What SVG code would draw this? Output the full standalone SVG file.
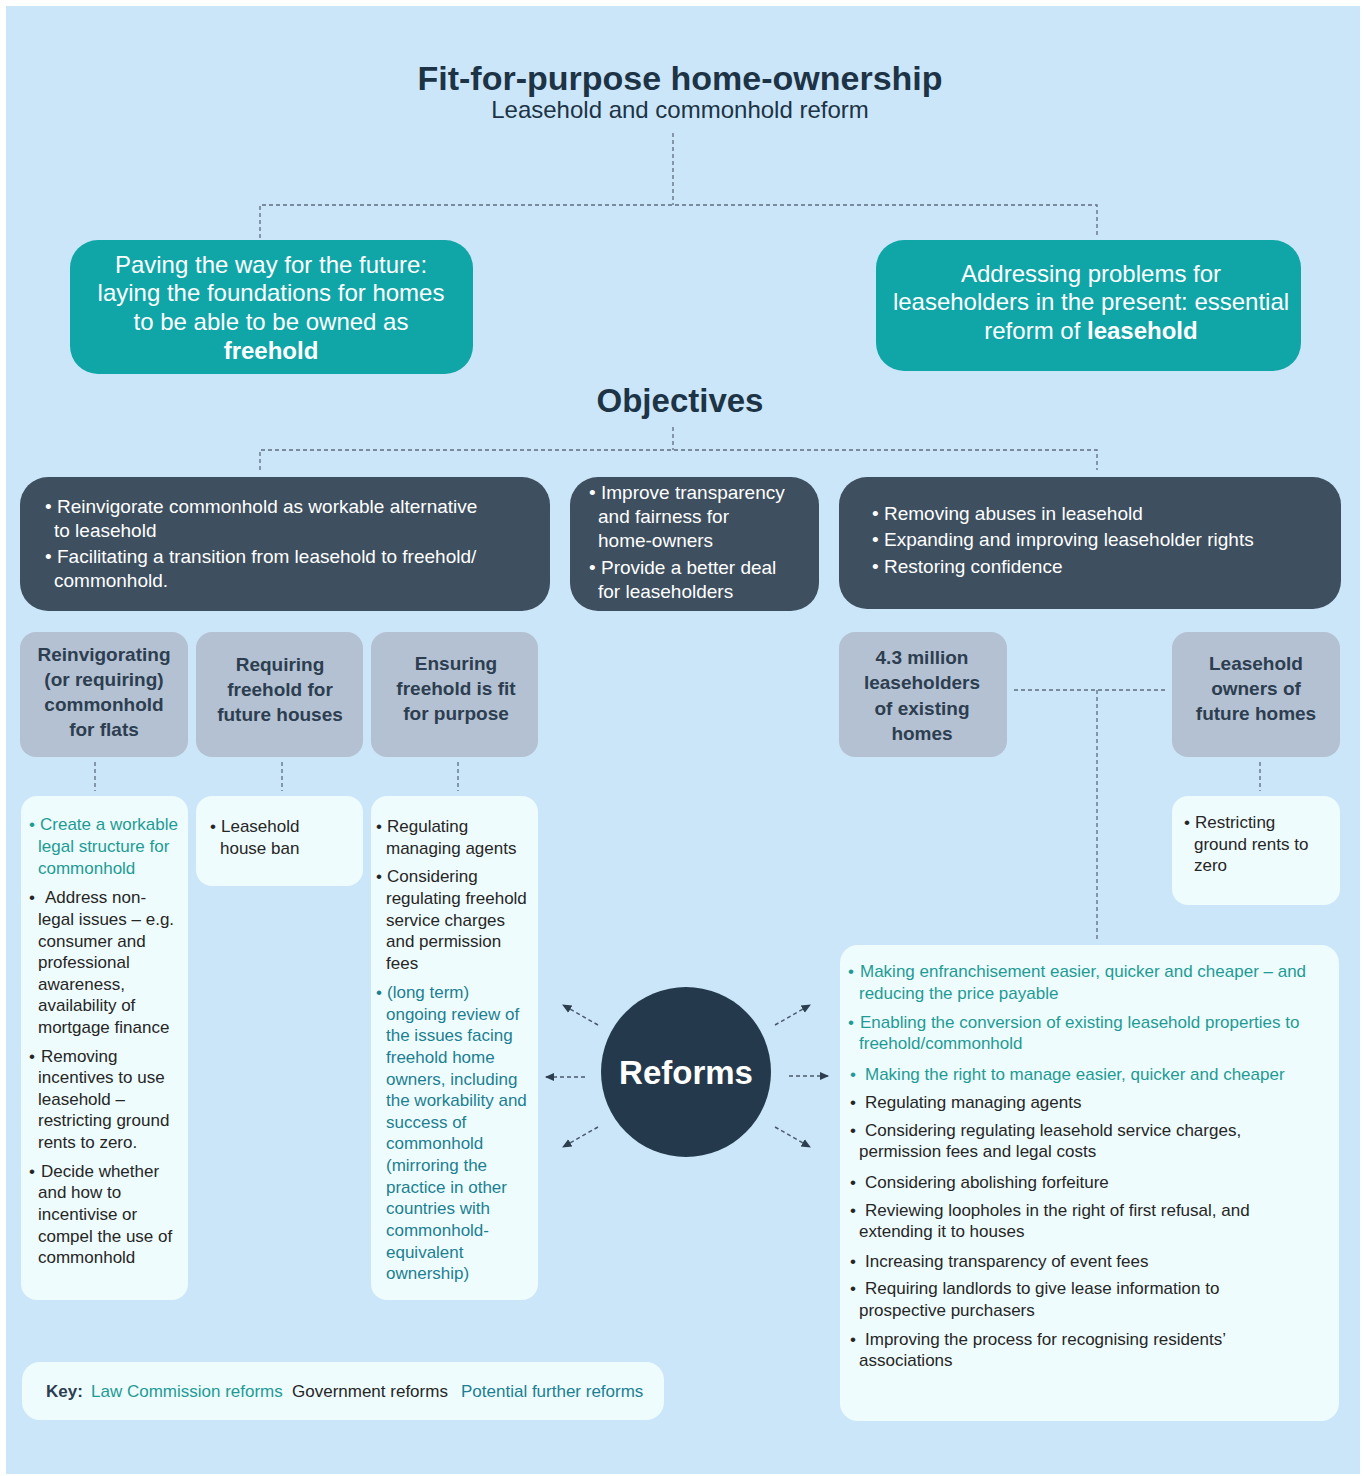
<svg xmlns="http://www.w3.org/2000/svg" width="1366" height="1476" viewBox="0 0 1366 1476">
<defs>
<style>
text{font-family:"Liberation Sans",Arial,sans-serif}
.title{font-size:34px;font-weight:bold;fill:#1d3346;text-anchor:middle}
.obj{font-size:33px;font-weight:bold;fill:#1d3346;text-anchor:middle}
.sub{font-size:24px;fill:#1d3346;text-anchor:middle}
.teal{fill:#10a6a8}
.tealtxt{font-size:24px;fill:#ffffff;text-anchor:middle}
.dark{fill:#3e4f60}
.darktxt{font-size:19px;fill:#ffffff}
.grey{fill:#b4c1d2}
.greytxt{font-size:19px;font-weight:bold;fill:#2c3e50;text-anchor:middle}
.white{fill:#effcfd}
.wt{font-size:17px;fill:#262626}
.lc{fill:#1e9b95}
.pf{fill:#1c7f92}
.conn{fill:none;stroke:#5d6d7e;stroke-width:1.3;stroke-dasharray:4 3}
.arr{fill:none;stroke:#4a5a6b;stroke-width:1.5;stroke-dasharray:4 3}
</style>
<marker id="ah" viewBox="0 0 10 10" refX="8" refY="5" markerWidth="7" markerHeight="7" orient="auto">
<path d="M0,1 L9,5 L0,9 z" fill="#2c3e50"/>
</marker>
</defs>
<rect x="0" y="0" width="1366" height="1476" fill="#ffffff"/>
<rect x="6" y="6" width="1354" height="1468" fill="#cce6f9"/>

<g id="title">
<text class="title" x="680" y="90">Fit-for-purpose home-ownership</text>
<text class="sub" x="680" y="118">Leasehold and commonhold reform</text>
</g>

<g id="connectors">
<path class="conn" d="M673,133 V205 M260,238 V205 H1097 V238"/>
<path class="conn" d="M673,427 V450 M260,470 V450 H1097 V470"/>
<path class="conn" d="M95,762 V791 M282,762 V791 M458,762 V791 M1260,762 V791"/>
<path class="conn" d="M1014,690 H1166 M1097,690 V940"/>
<path class="arr" d="M585,1077 H546" marker-end="url(#ah)"/>
<path class="arr" d="M789,1076 H828" marker-end="url(#ah)"/>
<path class="arr" d="M598,1025 L563,1005" marker-end="url(#ah)"/>
<path class="arr" d="M775,1025 L810,1005" marker-end="url(#ah)"/>
<path class="arr" d="M598,1127 L563,1147" marker-end="url(#ah)"/>
<path class="arr" d="M775,1127 L810,1147" marker-end="url(#ah)"/>
</g>

<g id="goal-future">
<rect class="teal" x="70" y="240" width="403" height="134" rx="28"/>
<text class="tealtxt" x="271" y="273">Paving the way for the future:</text>
<text class="tealtxt" x="271" y="301">laying the foundations for homes</text>
<text class="tealtxt" x="271" y="330">to be able to be owned as</text>
<text class="tealtxt" x="271" y="359" font-weight="bold">freehold</text>
</g>

<g id="goal-present">
<rect class="teal" x="876" y="240" width="425" height="131" rx="28"/>
<text class="tealtxt" x="1091" y="282">Addressing problems for</text>
<text class="tealtxt" x="1091" y="310">leaseholders in the present: essential</text>
<text class="tealtxt" x="1091" y="339">reform of <tspan font-weight="bold">leasehold</tspan></text>
</g>

<g id="objectives-heading">
<text class="obj" x="680" y="412">Objectives</text>
</g>

<g id="objective-1">
<rect class="dark" x="20" y="477" width="530" height="134" rx="28"/>
<text class="darktxt" y="513"><tspan x="45">•</tspan><tspan x="57">Reinvigorate commonhold as workable alternative</tspan></text>
<text class="darktxt" x="54" y="537">to leasehold</text>
<text class="darktxt" y="563"><tspan x="45">•</tspan><tspan x="57">Facilitating a transition from leasehold to freehold/</tspan></text>
<text class="darktxt" x="54" y="587">commonhold.</text>
</g>

<g id="objective-2">
<rect class="dark" x="570" y="477" width="249" height="134" rx="28"/>
<text class="darktxt" y="499"><tspan x="589">•</tspan><tspan x="601">Improve transparency</tspan></text>
<text class="darktxt" x="598" y="523">and fairness for</text>
<text class="darktxt" x="598" y="547">home-owners</text>
<text class="darktxt" y="574"><tspan x="589">•</tspan><tspan x="601">Provide a better deal</tspan></text>
<text class="darktxt" x="598" y="598">for leaseholders</text>
</g>

<g id="objective-3">
<rect class="dark" x="839" y="477" width="502" height="132" rx="28"/>
<text class="darktxt" y="520"><tspan x="872">•</tspan><tspan x="884">Removing abuses in leasehold</tspan></text>
<text class="darktxt" y="546"><tspan x="872">•</tspan><tspan x="884">Expanding and improving leaseholder rights</tspan></text>
<text class="darktxt" y="573"><tspan x="872">•</tspan><tspan x="884">Restoring confidence</tspan></text>
</g>

<g id="cat-commonhold">
<rect class="grey" x="20" y="632" width="168" height="125" rx="16"/>
<text class="greytxt" x="104" y="661">Reinvigorating</text>
<text class="greytxt" x="104" y="686">(or requiring)</text>
<text class="greytxt" x="104" y="711">commonhold</text>
<text class="greytxt" x="104" y="736">for flats</text>
</g>

<g id="cat-houses">
<rect class="grey" x="196" y="632" width="167" height="125" rx="16"/>
<text class="greytxt" x="280" y="671">Requiring</text>
<text class="greytxt" x="280" y="696">freehold for</text>
<text class="greytxt" x="280" y="721">future houses</text>
</g>

<g id="cat-fit">
<rect class="grey" x="371" y="632" width="167" height="125" rx="16"/>
<text class="greytxt" x="456" y="670">Ensuring</text>
<text class="greytxt" x="456" y="695">freehold is fit</text>
<text class="greytxt" x="456" y="720">for purpose</text>
</g>

<g id="cat-existing">
<rect class="grey" x="839" y="632" width="168" height="125" rx="16"/>
<text class="greytxt" x="922" y="664">4.3 million</text>
<text class="greytxt" x="922" y="689">leaseholders</text>
<text class="greytxt" x="922" y="715">of existing</text>
<text class="greytxt" x="922" y="740">homes</text>
</g>

<g id="cat-future">
<rect class="grey" x="1172" y="632" width="168" height="125" rx="16"/>
<text class="greytxt" x="1256" y="670">Leasehold</text>
<text class="greytxt" x="1256" y="695">owners of</text>
<text class="greytxt" x="1256" y="720">future homes</text>
</g>

<g id="reforms-commonhold">
<rect class="white" x="21" y="796" width="167" height="504" rx="16"/>
<text class="wt lc" y="830"><tspan x="29">•</tspan><tspan x="40">Create a workable</tspan></text>
<text class="wt lc" x="38" y="852">legal structure for</text>
<text class="wt lc" x="38" y="874">commonhold</text>
<text class="wt" y="903"><tspan x="29">•</tspan><tspan x="45">Address non-</tspan></text>
<text class="wt" x="38" y="925">legal issues – e.g.</text>
<text class="wt" x="38" y="947">consumer and</text>
<text class="wt" x="38" y="968">professional</text>
<text class="wt" x="38" y="990">awareness,</text>
<text class="wt" x="38" y="1011">availability of</text>
<text class="wt" x="38" y="1033">mortgage finance</text>
<text class="wt" y="1062"><tspan x="29">•</tspan><tspan x="41">Removing</tspan></text>
<text class="wt" x="38" y="1083">incentives to use</text>
<text class="wt" x="38" y="1105">leasehold –</text>
<text class="wt" x="38" y="1126">restricting ground</text>
<text class="wt" x="38" y="1148">rents to zero.</text>
<text class="wt" y="1177"><tspan x="29">•</tspan><tspan x="41">Decide whether</tspan></text>
<text class="wt" x="38" y="1198">and how to</text>
<text class="wt" x="38" y="1220">incentivise or</text>
<text class="wt" x="38" y="1242">compel the use of</text>
<text class="wt" x="38" y="1263">commonhold</text>
</g>

<g id="reforms-houses">
<rect class="white" x="196" y="796" width="167" height="90" rx="16"/>
<text class="wt" y="832"><tspan x="210">•</tspan><tspan x="221">Leasehold</tspan></text>
<text class="wt" x="220" y="854">house ban</text>
</g>

<g id="reforms-fit">
<rect class="white" x="371" y="796" width="167" height="504" rx="16"/>
<text class="wt" y="832"><tspan x="376">•</tspan><tspan x="387">Regulating</tspan></text>
<text class="wt" x="386" y="854">managing agents</text>
<text class="wt" y="882"><tspan x="376">•</tspan><tspan x="387">Considering</tspan></text>
<text class="wt" x="386" y="904">regulating freehold</text>
<text class="wt" x="386" y="926">service charges</text>
<text class="wt" x="386" y="947">and permission</text>
<text class="wt" x="386" y="969">fees</text>
<text class="wt pf" y="998"><tspan x="376">•</tspan><tspan x="387">(long term)</tspan></text>
<text class="wt pf" x="386" y="1020">ongoing review of</text>
<text class="wt pf" x="386" y="1041">the issues facing</text>
<text class="wt pf" x="386" y="1063">freehold home</text>
<text class="wt pf" x="386" y="1085">owners, including</text>
<text class="wt pf" x="386" y="1106">the workability and</text>
<text class="wt pf" x="386" y="1128">success of</text>
<text class="wt pf" x="386" y="1149">commonhold</text>
<text class="wt pf" x="386" y="1171">(mirroring the</text>
<text class="wt pf" x="386" y="1193">practice in other</text>
<text class="wt pf" x="386" y="1214">countries with</text>
<text class="wt pf" x="386" y="1236">commonhold-</text>
<text class="wt pf" x="386" y="1258">equivalent</text>
<text class="wt pf" x="386" y="1279">ownership)</text>
</g>

<g id="reforms-future">
<rect class="white" x="1172" y="796" width="168" height="109" rx="16"/>
<text class="wt" y="828"><tspan x="1184">•</tspan><tspan x="1195">Restricting</tspan></text>
<text class="wt" x="1194" y="850">ground rents to</text>
<text class="wt" x="1194" y="871">zero</text>
</g>

<g id="reforms-existing">
<rect class="white" x="840" y="945" width="499" height="476" rx="18"/>
<text class="wt lc" y="977"><tspan x="848">•</tspan><tspan x="860">Making enfranchisement easier, quicker and cheaper – and</tspan></text>
<text class="wt lc" x="859" y="999">reducing the price payable</text>
<text class="wt lc" y="1028"><tspan x="848">•</tspan><tspan x="860">Enabling the conversion of existing leasehold properties to</tspan></text>
<text class="wt lc" x="859" y="1049">freehold/commonhold</text>
<text class="wt lc" y="1080"><tspan x="850">•</tspan><tspan x="865">Making the right to manage easier, quicker and cheaper</tspan></text>
<text class="wt" y="1108"><tspan x="850">•</tspan><tspan x="865">Regulating managing agents</tspan></text>
<text class="wt" y="1136"><tspan x="850">•</tspan><tspan x="865">Considering regulating leasehold service charges,</tspan></text>
<text class="wt" x="859" y="1157">permission fees and legal costs</text>
<text class="wt" y="1188"><tspan x="850">•</tspan><tspan x="865">Considering abolishing forfeiture</tspan></text>
<text class="wt" y="1216"><tspan x="850">•</tspan><tspan x="865">Reviewing loopholes in the right of first refusal, and</tspan></text>
<text class="wt" x="859" y="1237">extending it to houses</text>
<text class="wt" y="1267"><tspan x="850">•</tspan><tspan x="865">Increasing transparency of event fees</tspan></text>
<text class="wt" y="1294"><tspan x="850">•</tspan><tspan x="865">Requiring landlords to give lease information to</tspan></text>
<text class="wt" x="859" y="1316">prospective purchasers</text>
<text class="wt" y="1345"><tspan x="850">•</tspan><tspan x="865">Improving the process for recognising residents’</tspan></text>
<text class="wt" x="859" y="1366">associations</text>
</g>

<g id="reforms">
<circle cx="686" cy="1072" r="85" fill="#243a4c"/>
<text x="686" y="1084" font-size="33" font-weight="bold" fill="#ffffff" text-anchor="middle">Reforms</text>
</g>

<g id="key">
<rect class="white" x="22" y="1362" width="642" height="58" rx="18"/>
<text class="wt" y="1397"><tspan x="46" font-weight="bold" fill="#2c3e50">Key:</tspan><tspan x="91" class="lc">Law Commission reforms</tspan><tspan x="292">Government reforms</tspan><tspan x="461" class="pf">Potential further reforms</tspan></text>
</g>
</svg>
